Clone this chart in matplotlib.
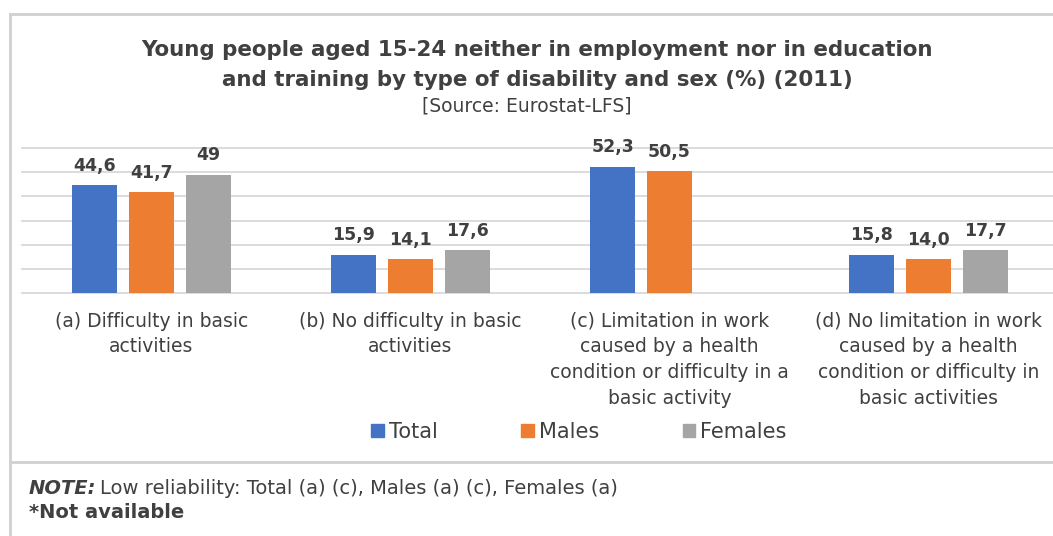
import numpy as np
import matplotlib.pyplot as plt
from matplotlib.lines import Line2D

categories = [
    "(a) Difficulty in basic\nactivities",
    "(b) No difficulty in basic\nactivities",
    "(c) Limitation in work\ncaused by a health\ncondition or difficulty in a\nbasic activity",
    "(d) No limitation in work\ncaused by a health\ncondition or difficulty in\nbasic activities",
]
series = ["Total", "Males", "Females"]
total = [44.6, 15.9, 52.3, 15.8]
males = [41.7, 14.1, 50.5, 14.0]
females = [49.0, 17.6, np.nan, 17.7]
labels_total = ["44,6", "15,9", "52,3", "15,8"]
labels_males = ["41,7", "14,1", "50,5", "14,0"]
labels_females = ["49", "17,6", "", "17,7"]

colors = ["#4472C4", "#ED7D31", "#A5A5A5"]
text_col = "#404040"
W, H = 1053, 536

fig = plt.figure(figsize=(W / 100, H / 100), dpi=100)
ax = fig.add_axes([22 / W, 1 - 293 / H, 1036 / W, (293 - 148) / H])

x = np.arange(len(categories))
bw = 0.174
offs = [-0.22, 0.0, 0.22]
for vals, labs, col, off in zip([total, males, females],
                                [labels_total, labels_males, labels_females],
                                colors, offs):
    bars = ax.bar(x + off, vals, width=bw, color=col, zorder=3)
    for b, v, lab in zip(bars, vals, labs):
        if np.isnan(v):
            continue
        ax.annotate(lab, (b.get_x() + b.get_width() / 2, v), xytext=(0, 7.5),
                    textcoords="offset points", ha="center", va="bottom",
                    fontsize=12.5, fontweight="bold", color=text_col)

ax.set_xlim(-0.5, 3.5)
ax.set_ylim(0, 60)
ax.set_yticks(np.arange(0, 61, 10))
ax.yaxis.grid(True, color="#D9D9D9", linewidth=1.3, zorder=0)
for gl in ax.get_ygridlines():
    gl.set_clip_on(False)
ax.tick_params(left=False, labelleft=False, bottom=False)
ax.set_xticks(x)
ax.set_xticklabels(categories, fontsize=13.5, color=text_col, linespacing=1.45)
ax.tick_params(axis="x", pad=10)
for s in ax.spines.values():
    s.set_visible(False)

# title
fig.text(0.51, 1 - 50 / H, "Young people aged 15-24 neither in employment nor in education",
         ha="center", va="center", fontsize=15.4, fontweight="bold", color=text_col)
fig.text(0.51, 1 - 80 / H, "and training by type of disability and sex (%) (2011)",
         ha="center", va="center", fontsize=15.4, fontweight="bold", color=text_col)
fig.text(0.5, 1 - 106 / H, "[Source: Eurostat-LFS]",
         ha="center", va="center", fontsize=13.5, color=text_col)

# legend
handles = [plt.Rectangle((0, 0), 1, 1, color=c) for c in colors]
fig.legend(handles, series, loc="center", bbox_to_anchor=(579 / W, 1 - 432 / H), ncol=3,
           frameon=False, fontsize=15, handlelength=0.6, handleheight=0.6,
           handletextpad=0.25, columnspacing=4.0, labelcolor=text_col)

# frame lines
fc = "#D0D0D0"
fig.add_artist(Line2D([9.5 / W, 9.5 / W], [0, 1 - 14 / H], color=fc, lw=2))
fig.add_artist(Line2D([9.5 / W, 1], [1 - 14 / H, 1 - 14 / H], color=fc, lw=2))
fig.add_artist(Line2D([9.5 / W, 1], [1 - 462 / H, 1 - 462 / H], color=fc, lw=2))

# note
t1 = fig.text(29 / W, 1 - 488 / H, "NOTE:", ha="left", va="center", fontsize=14,
              fontweight="bold", fontstyle="italic", color=text_col)
fig.canvas.draw()
bb = t1.get_window_extent()
fig.text((bb.x1 + 4) / W, 1 - 488 / H,
         "Low reliability: Total (a) (c), Males (a) (c), Females (a)",
         ha="left", va="center", fontsize=14, color=text_col)
fig.text(29 / W, 1 - 512 / H, "*Not available", ha="left", va="center", fontsize=14,
         fontweight="bold", color=text_col)

fig.savefig("out.png", dpi=100, facecolor="white")
